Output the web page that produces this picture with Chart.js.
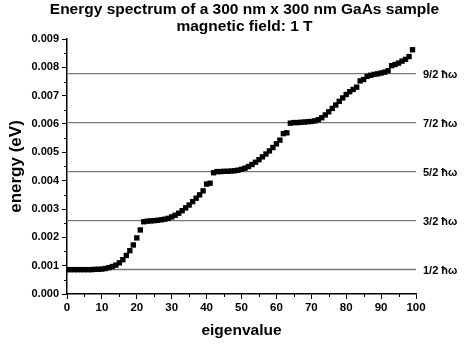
<!DOCTYPE html>
<html>
<head>
<meta charset="utf-8">
<script src="https://cdn.jsdelivr.net/npm/chart.js@4"></script>
<style>
  body { margin: 0; background: #fff; }
  #wrap { width: 471px; height: 346px; }
</style>
</head>
<body>
<div id="wrap"><canvas id="chart" width="471" height="346"></canvas></div>
<script>
const titleLines = ["Energy spectrum of a 300 nm x 300 nm GaAs sample", "magnetic field: 1 T"];
const xTitle = "eigenvalue";
const yTitle = "energy (eV)";

const eigenvalues = [
  0, 1, 2, 3, 4, 5, 6, 7, 8, 9,
  10, 11, 12, 13, 14, 15, 16, 17, 18, 19,
  20, 21, 22, 23, 24, 25, 26, 27, 28, 29,
  30, 31, 32, 33, 34, 35, 36, 37, 38, 39,
  40, 41, 42, 43, 44, 45, 46, 47, 48, 49,
  50, 51, 52, 53, 54, 55, 56, 57, 58, 59,
  60, 61, 62, 63, 64, 65, 66, 67, 68, 69,
  70, 71, 72, 73, 74, 75, 76, 77, 78, 79,
  80, 81, 82, 83, 84, 85, 86, 87, 88, 89,
  90, 91, 92, 93, 94, 95, 96, 97, 98, 99
];

const energies = [
  0.00086, 0.00086, 0.00086, 0.00086, 0.00086, 0.00086, 0.00086, 0.00086, 0.00087, 0.00087,
  0.00088, 0.00090, 0.00093, 0.00097, 0.00102, 0.00110, 0.00121, 0.00136, 0.00153, 0.00173,
  0.00198, 0.00226, 0.00255, 0.00257, 0.00258, 0.00259, 0.00260, 0.00262, 0.00264, 0.00267,
  0.00272, 0.00278, 0.00285, 0.00294, 0.00304, 0.00314, 0.00326, 0.00338, 0.00350, 0.00364,
  0.00388, 0.00391, 0.00428, 0.00432, 0.00432, 0.00433, 0.00433, 0.00434, 0.00435, 0.00437,
  0.00440, 0.00444, 0.00450, 0.00457, 0.00465, 0.00474, 0.00484, 0.00494, 0.00505, 0.00517,
  0.00530, 0.00543, 0.00566, 0.00569, 0.00603, 0.00605, 0.00605, 0.00606, 0.00607, 0.00608,
  0.00609, 0.00611, 0.00615, 0.00622, 0.00632, 0.00643, 0.00655, 0.00667, 0.00680, 0.00692,
  0.00704, 0.00714, 0.00722, 0.00730, 0.00752, 0.00757, 0.00768, 0.00772, 0.00775, 0.00777,
  0.00780, 0.00783, 0.00788, 0.00806, 0.00810, 0.00815, 0.00822, 0.00828, 0.00838, 0.00862
];

// Landau levels (n + 1/2) hbar*omega, hbar*omega = 1.728 meV at 1 T
const levelEnergies = [0.000864, 0.002592, 0.00432, 0.006048, 0.007776];
const levelLabels = ["1/2 ħω", "3/2 ħω", "5/2 ħω", "7/2 ħω", "9/2 ħω"];
const levelRange = [0, 100];

const FONT = "Arial, 'Liberation Sans', sans-serif";

const levelDatasets = levelEnergies.map(e => ({
  type: "line",
  data: levelRange.map(x => ({ x: x, y: e })),
  borderColor: "#7a7a7a",
  borderWidth: 1.3,
  pointRadius: 0,
  order: 2
}));

// minor ticks, title and level labels
const extras = {
  id: "extras",
  afterDraw(c) {
    const ctx = c.ctx;
    const xs = c.scales.x, ys = c.scales.y;
    ctx.save();
    ctx.strokeStyle = "#000";
    ctx.lineWidth = 1;
    ctx.beginPath();
    for (let v = 5; v < 100; v += 10) {
      const px = Math.round(xs.getPixelForValue(v)) + 0.5;
      ctx.moveTo(px, xs.top);
      ctx.lineTo(px, xs.top + 3);
    }
    for (let k = 1; k < 18; k += 2) {
      const py = Math.round(ys.getPixelForValue(k * 0.0005)) + 0.5;
      ctx.moveTo(ys.right, py);
      ctx.lineTo(ys.right - 3, py);
    }
    ctx.stroke();

    ctx.fillStyle = "#000";
    ctx.textAlign = "center";
    ctx.textBaseline = "middle";
    ctx.font = "bold 15.5px " + FONT;
    const cx = (c.chartArea.left + c.chartArea.right) / 2 + 3;
    ctx.fillText(titleLines[0], cx, 10);
    ctx.fillText(titleLines[1], cx, 27);

    ctx.textAlign = "left";
    ctx.font = "bold 11px " + FONT;
    levelEnergies.forEach((e, i) => {
      ctx.fillText(levelLabels[i], c.chartArea.right + 7, ys.getPixelForValue(e) + 1);
    });
    ctx.restore();
  }
};

new Chart(document.getElementById("chart"), {
  type: "scatter",
  data: {
    datasets: [
      {
        data: eigenvalues.map((x, i) => ({ x: x, y: energies[i] })),
        backgroundColor: "#000",
        borderColor: "#000",
        borderWidth: 0,
        pointStyle: "rect",
        pointRadius: 3.8,
        order: 1
      },
      ...levelDatasets
    ]
  },
  options: {
    responsive: false,
    animation: false,
    layout: { padding: { top: 39, right: 55, left: 0, bottom: 0 } },
    plugins: {
      legend: { display: false },
      tooltip: { enabled: false }
    },
    scales: {
      x: {
        type: "linear",
        min: 0,
        max: 100,
        afterFit: s => { s.height = 52; },
        ticks: {
          stepSize: 10,
          color: "#000",
          padding: 2,
          maxRotation: 0,
          font: { family: FONT, size: 11.5, weight: "bold" }
        },
        grid: { drawOnChartArea: false, drawTicks: true, tickLength: 5, tickColor: "#000" },
        border: { color: "#000", width: 1.5 },
        title: {
          display: true,
          text: xTitle,
          color: "#000",
          padding: { top: 0, bottom: 6 },
          font: { family: FONT, size: 15.5, weight: "bold" }
        }
      },
      y: {
        min: 0,
        max: 0.009,
        afterFit: s => { s.width = 67; },
        ticks: {
          stepSize: 0.001,
          color: "#000",
          padding: 3,
          callback: v => v.toFixed(3),
          font: { family: FONT, size: 11, weight: "bold" }
        },
        grid: { drawOnChartArea: false, drawTicks: true, tickLength: 5, tickColor: "#000" },
        border: { color: "#000", width: 1.5 },
        title: {
          display: true,
          text: yTitle,
          color: "#000",
          padding: { top: 6, bottom: 0 },
          font: { family: FONT, size: 17, weight: "bold" }
        }
      }
    }
  },
  plugins: [extras]
});
</script>
</body>
</html>
